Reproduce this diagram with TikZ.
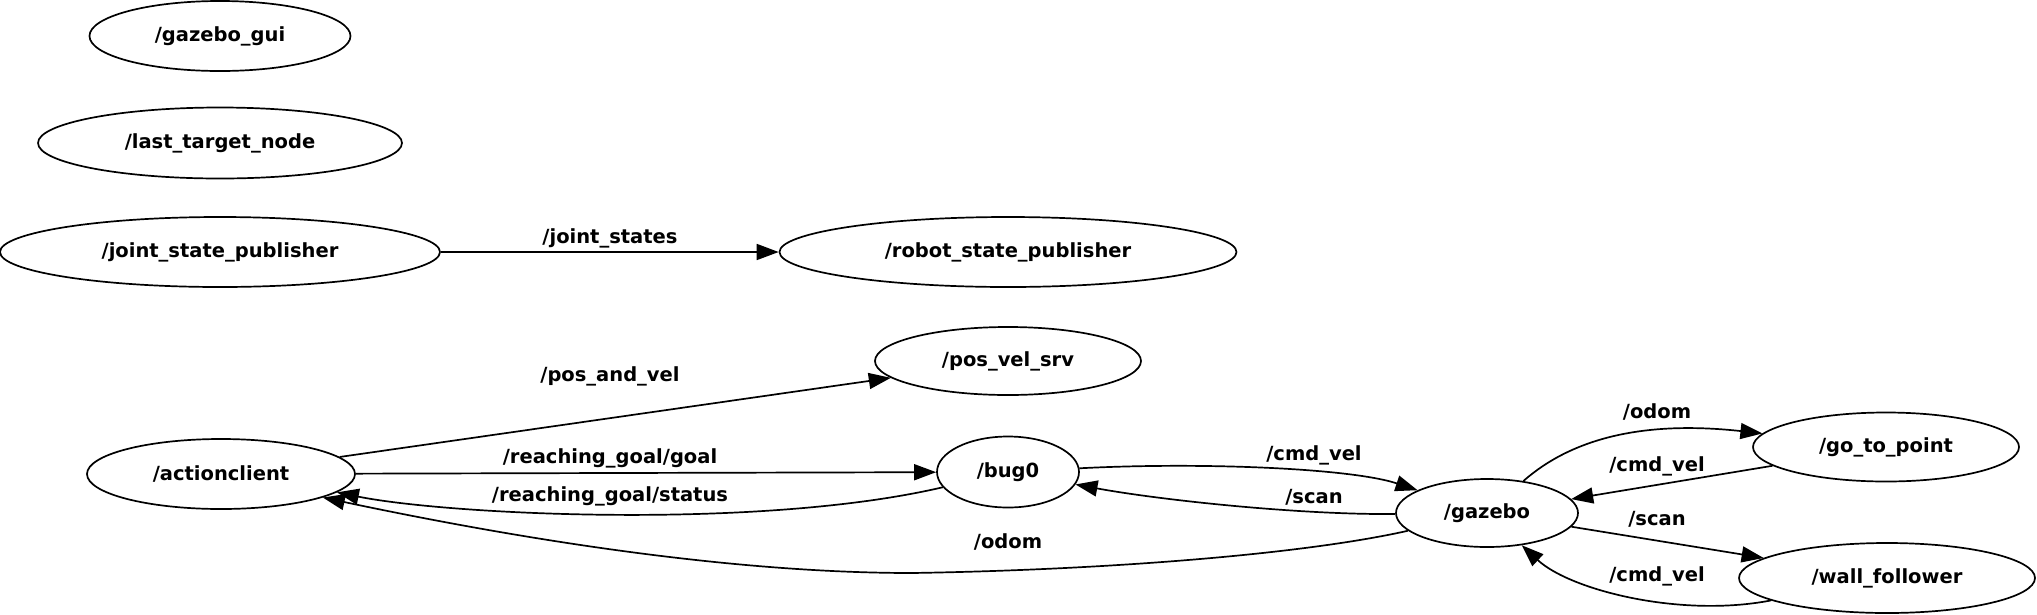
\documentclass[tikz,border=0pt]{standalone}
\usepackage{fontspec}
\setmainfont{DejaVu Sans}
\usetikzlibrary{shapes.geometric,arrows.meta}
\begin{document}
\begin{tikzpicture}[x=1pt,y=-1pt,
  rosnode/.style={ellipse,draw,line width=1.7pt,inner sep=0pt,font=\fontsize{19.5}{22}\selectfont\bfseries},
  topiclabel/.style={font=\fontsize{19.5}{22}\selectfont\bfseries,inner sep=0pt},
  rosedge/.style={line width=1.7pt,-{Triangle[length=22pt,width=16pt]}}]
\useasboundingbox (0,0) rectangle (2037,614);
% nodes
\node[rosnode,minimum width=261pt,minimum height=70pt] (gui) at (220,36) {/gazebo\_gui};
\node[rosnode,minimum width=364pt,minimum height=71pt] (ltn) at (220,143) {/last\_target\_node};
\node[rosnode,minimum width=440pt,minimum height=70pt] (jsp) at (220,252) {/joint\_state\_publisher};
\node[rosnode,minimum width=457pt,minimum height=70pt] (rsp) at (1008,252) {/robot\_state\_publisher};
\node[rosnode,minimum width=266pt,minimum height=68pt] (pvs) at (1008,361) {/pos\_vel\_srv};
\node[rosnode,minimum width=268pt,minimum height=70pt] (ac) at (221,474) {/actionclient};
\node[rosnode,minimum width=142pt,minimum height=71pt] (bug) at (1008,472) {/bug0};
\node[rosnode,minimum width=182pt,minimum height=68pt] (gz) at (1487,513) {/gazebo};
\node[rosnode,minimum width=266pt,minimum height=69pt] (gtp) at (1886,447) {/go\_to\_point};
\node[rosnode,minimum width=296pt,minimum height=70pt] (wf) at (1887,578) {/wall\_follower};
% labels
\node[topiclabel] (l1) at (610,238) {/joint\_states};
\node[topiclabel] (l2) at (610,376) {/pos\_and\_vel};
\node[topiclabel] (l3) at (610,458) {/reaching\_goal/goal};
\node[topiclabel] (l4) at (610,496) {/reaching\_goal/status};
\node[topiclabel] (l5) at (1008,542) {/odom};
\node[topiclabel] (l6) at (1314,455) {/cmd\_vel};
\node[topiclabel] (l7) at (1314,497) {/scan};
\node[topiclabel] (l8) at (1657,412) {/odom};
\node[topiclabel] (l9) at (1657,466) {/cmd\_vel};
\node[topiclabel] (l10) at (1657,519) {/scan};
\node[topiclabel] (l11) at (1657,576) {/cmd\_vel};
% edges
\draw[rosedge] (jsp) -- (rsp);
\draw[rosedge] (ac) -- (pvs);
\draw[rosedge] (ac) -- (bug);
\draw[rosedge] (bug) .. controls (760,530) and (450,515) .. (ac.-9);
\draw[rosedge] (gz) .. controls (1300,555) and (1100,570) .. (912,573)
   .. controls (720,573) and (500,535) .. (ac.-13);
\draw[rosedge] (bug) .. controls (1200,462) and (1350,468) .. (gz);
\draw[rosedge] (gz) .. controls (1300,515) and (1160,500) .. (bug);
\draw[rosedge] (gz) .. controls (1570,440) and (1640,420) .. (gtp);
\draw[rosedge] (gtp) -- (gz);
\draw[rosedge] (gz) -- (wf);
\draw[rosedge] (wf) .. controls (1680,618) and (1570,590) .. (gz);
\end{tikzpicture}
\end{document}
